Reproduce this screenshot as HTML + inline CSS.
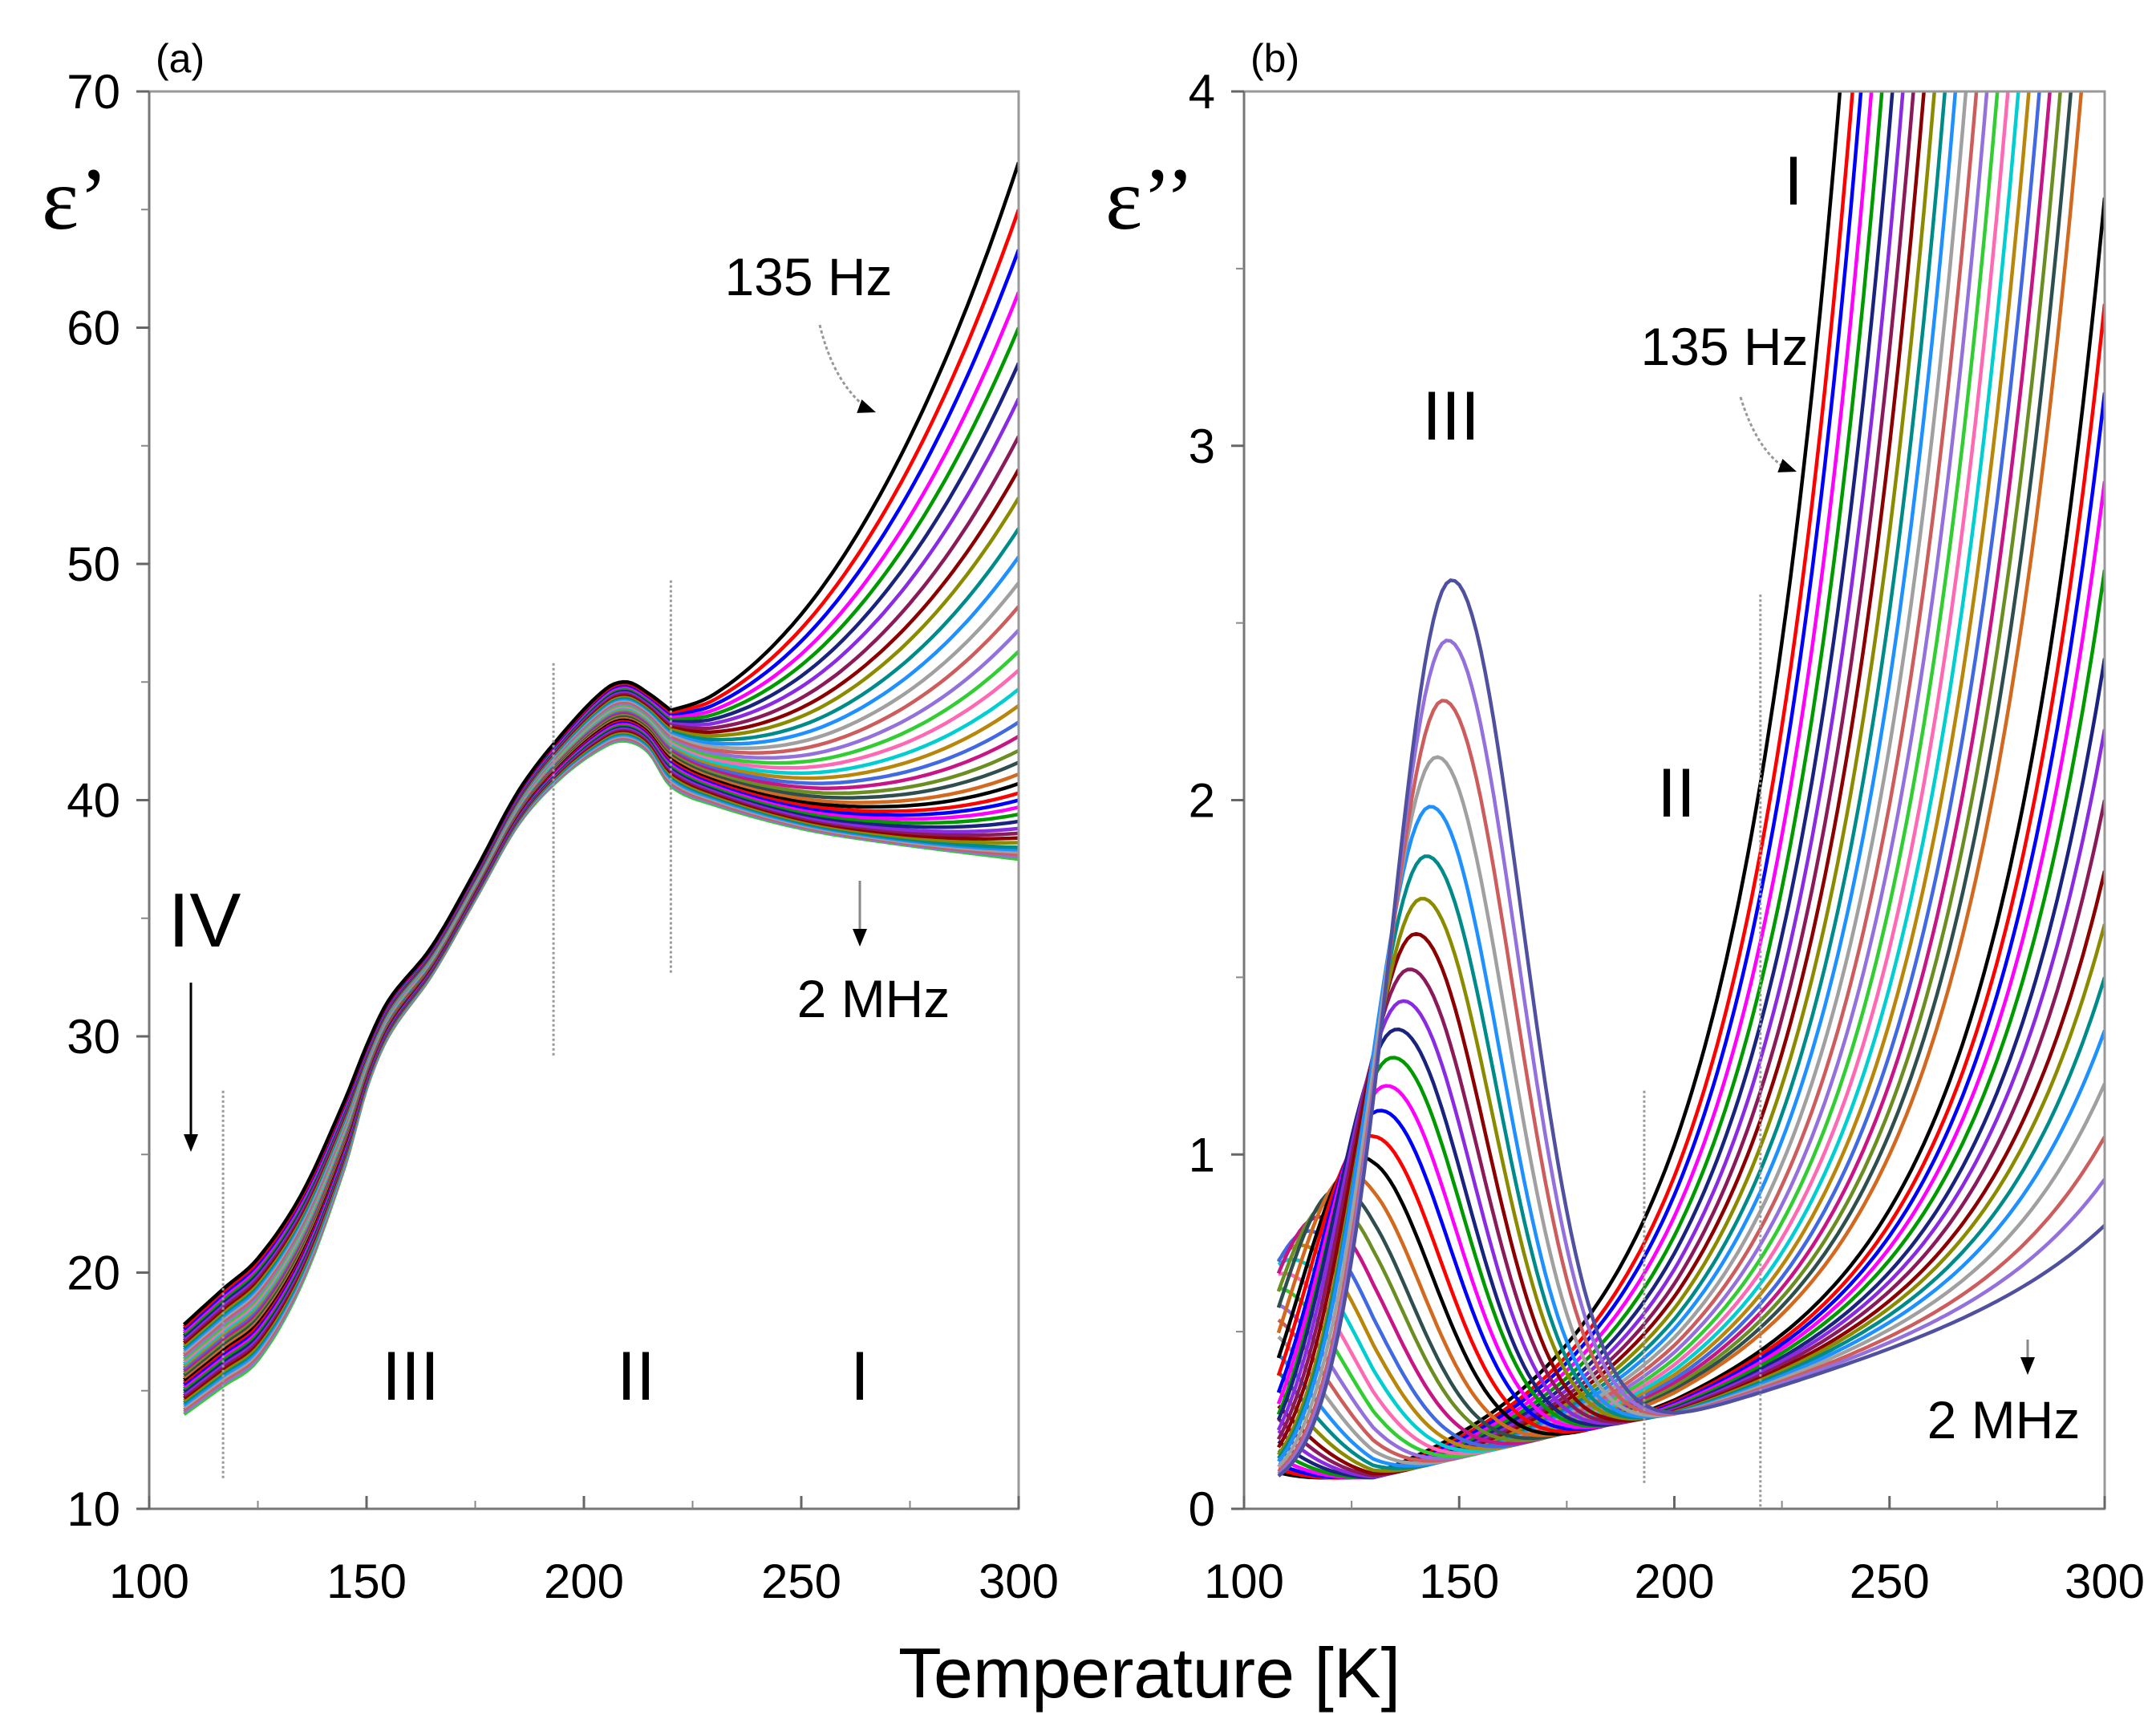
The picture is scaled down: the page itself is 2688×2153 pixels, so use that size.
<!DOCTYPE html>
<html><head><meta charset="utf-8"><style>
html,body{margin:0;padding:0;background:#fff;}
svg{display:block;font-family:"Liberation Sans",sans-serif;}
</style></head><body>
<svg id="chart" width="2688" height="2153" viewBox="0 0 2688 2153" xmlns="http://www.w3.org/2000/svg">
<defs>
<clipPath id="clipA"><rect x="186" y="114" width="1084" height="1767"/></clipPath>
<clipPath id="clipB"><rect x="1551" y="114" width="1073" height="1767"/></clipPath>
</defs>
<g id="panelA"></g>
<g id="panelB"></g>
<text x="1433" y="2116" font-size="88" text-anchor="middle">Temperature [K]</text>
</svg>
<script>
// ---------- Panel (a) data ----------
const tempsA = [108,117,125,135,145,150,155,165,175,185,195,205,210,215,220,230,250,270,300];
const lowCurveA = [14,15.2,16.3,19.5,24.5,27.8,30,32.6,35.8,39,41,42.3,42.5,42,40.6,39.8,38.8,38.2,37.5];
const spreadA = [3.8,4.1,4.3,3.8,2.8,1.8,1.5,1.2,1.2,1.4,1.8,2.4,2.5,2.5,3.2,2.6,1.8,1.2,0.5];
const endValuesA = [67,65,63.3,61.5,60,58.5,57,55.4,54,52.8,51.5,50.3,49.2,48.2,47.2,46.3,45.5,44.7,44,43.3,42.7,42.1,41.6,41.1,40.7,40.3,40,39.7,39.4,39.1,38.8,38.6,38.4,38.2,38,37.9,37.8,37.7,37.6,37.5];
const yTicksA = [10,20,30,40,50,60,70];
const xTicks = [100,150,200,250,300];

// ---------- Panel (b) data ----------
const peakHeightsB = [2.62,2.45,2.28,2.12,1.98,1.84,1.72,1.62,1.52,1.43,1.35,1.27,1.19,1.12,1.05,0.99,0.94,0.9,0.86,0.82,0.78,0.74,0.7,0.66,0.62,0.58,0.55,0.52,0.49,0.46,0.43,0.4,0.38,0.36,0.34,0.32,0.3,0.28,0.26,0.24];
const peakTempsB = [148,147,146,144.5,143,142,141,139.5,138,136.5,135,134,132.5,131,129,127,124.5,122,120,117.5,115,113,111,109,107,105,103,101,99,97,95,93,91,89,87,85,83,81,79,77];
const crossTempsB = [241,244,246,248.5,251,253.5,256,258.5,261,263.5,266,268.5,271,273.5,276,278.5,281,283.5,286,288.5,291,293.5,296,298.5];
const endValuesB = [3.1,2.8,2.55,2.3,2.05,1.8,1.6,1.4,1.2,1.05,0.9,0.75,0.6,0.45,0.33,0.2];
const yTicksB = [0,1,2,3,4];

const colors = ['#000000','#ff0000','#0000ff','#ff00ff','#009a00','#1a237e','#8a2be2','#8b1a5a','#8b0000','#8b8b00','#008b8b','#1e90ff','#a0a0a0','#cd5c5c','#9370db','#32cd32','#ff69b4','#00ced1','#b8860b','#4169e1','#c71585','#6b8e23','#2f4f4f','#d2691e'];
const NS='http://www.w3.org/2000/svg';
function mk(tag,attrs,parent){const e=document.createElementNS(NS,tag);for(const k in attrs)e.setAttribute(k,attrs[k]);parent.appendChild(e);return e;}
function interp(xs,ys,x){
  if(x<=xs[0])return ys[0];
  const n=xs.length;
  for(let i=1;i<n;i++){
    if(x<=xs[i]){
      const a=i-1,b=i;
      const t=(x-xs[a])/(xs[b]-xs[a]);
      const h=xs[b]-xs[a];
      const m0=a>0?(ys[b]-ys[a-1])/(xs[b]-xs[a-1]):(ys[b]-ys[a])/h;
      const m1=b<n-1?(ys[b+1]-ys[a])/(xs[b+1]-xs[a]):(ys[b]-ys[a])/h;
      const t2=t*t,t3=t2*t;
      return (2*t3-3*t2+1)*ys[a]+(t3-2*t2+t)*h*m0+(-2*t3+3*t2)*ys[b]+(t3-t2)*h*m1;
    }
  }
  return ys[n-1];
}

function axes(g,X,Y,x0,x1,y0,y1,yTicks,yMinor,xMinor,label,sym,symX){
  mk('rect',{x:x0,y:y1,width:x1-x0,height:y0-y1,fill:'none',stroke:'#999','stroke-width':3},g);
  mk('line',{x1:x0,y1:y1,x2:x0,y2:y0,stroke:'#777','stroke-width':3},g);
  mk('line',{x1:x0,y1:y0,x2:x1,y2:y0,stroke:'#777','stroke-width':3},g);
  yTicks.forEach(v=>{const y=Y(v);
    mk('line',{x1:x0-16,y1:y,x2:x0,y2:y,stroke:'#666','stroke-width':3},g);
    const t=mk('text',{x:x0-36,y:y+21,'font-size':60,'text-anchor':'end'},g);t.textContent=v;
    
    
  });
  yMinor.forEach(v=>{mk('line',{x1:x0-10,y1:Y(v),x2:x0,y2:Y(v),stroke:'#888','stroke-width':2},g);});
  xTicks.forEach(v=>{const x=X(v);
    mk('line',{x1:x,y1:y0,x2:x,y2:y0-16,stroke:'#666','stroke-width':3},g);
    const t=mk('text',{x:x,y:1992,'font-size':60,'text-anchor':'middle'},g);t.textContent=v;
    
    
  });
  xMinor.forEach(v=>{mk('line',{x1:X(v),y1:y0,x2:X(v),y2:y0-10,stroke:'#888','stroke-width':2},g);});
  const pl=mk('text',{x:x0+8,y:90,'font-size':50},g);pl.textContent=label;
  
  
  const s=mk('text',{x:symX,y:285,'font-size':110,'font-family':'"Liberation Serif",serif'},g);s.textContent=sym;
  
  
}
function txt(g,x,y,size,str,name){const t=mk('text',{x:x,y:y,'font-size':size,'text-anchor':'middle'},g);t.textContent=str;
  
  }
function vline(g,x,ya,yb){mk('line',{x1:x,y1:ya,x2:x,y2:yb,stroke:'#999','stroke-width':3,'stroke-dasharray':'3,3'},g);}
function arrowHead(g,x,y,ang){const a=ang*Math.PI/180,L=22,W=9;
  const p=[[x,y],[x-L*Math.cos(a)+W*Math.sin(a),y-L*Math.sin(a)-W*Math.cos(a)],[x-L*Math.cos(a)-W*Math.sin(a),y-L*Math.sin(a)+W*Math.cos(a)]];
  mk('polygon',{points:p.map(q=>q.join(',')).join(' '),fill:'#000'},g);}

// ---------- Panel (a) ----------
(function(){
  const g=document.getElementById('panelA');
  const x0=186,x1=1270,y0=1881,y1=114;
  const X=t=>x0+(t-100)/200*(x1-x0), Y=v=>y0-(v-10)/60*(y0-y1);
  const N=endValuesA.length;
  const cg=mk('g',{'clip-path':'url(#clipA)'},g);
  for(let i=N-1;i>=0;i--){
    const tau=70-58*i/(N-1);
    const ex=endValuesA[i]-37.5-0.5*(1-i/(N-1));
    let d='';
    for(let T=108;T<=300;T+=1){
      let h=0;if(T>220){h=(Math.exp((T-300)/tau)-Math.exp(-80/tau))/(1-Math.exp(-80/tau));}
      const v=interp(tempsA,lowCurveA,T)+interp(tempsA,spreadA,T)*(1-i/(N-1))+ex*h;
      d+=(T===108?'M':'L')+X(T).toFixed(1)+','+Y(v).toFixed(1);
    }
    const p=mk('path',{d:d,fill:'none',stroke:colors[i%colors.length],'stroke-width':4.5},cg);
    
    
  }
  axes(g,X,Y,x0,x1,y0,y1,yTicksA,[15,25,35,45,55,65],[125,175,225,275],'(a)','ε’',52);
  vline(g,X(117),Y(27.7),Y(11.3));vline(g,X(193),Y(45.8),Y(29.1));vline(g,X(220),Y(49.3),Y(32.6));
  txt(g,1008,368,66,'135 Hz','label-135hz');
  mk('path',{d:'M1022,405 Q1040,480 1085,512',fill:'none',stroke:'#999','stroke-width':3,'stroke-dasharray':'4,3'},g);
  arrowHead(g,1092,514,20);
  txt(g,1089,1268,66,'2 MHz','label-2mhz');
  mk('line',{x1:1072,y1:1098,x2:1072,y2:1165,stroke:'#888','stroke-width':3},g);arrowHead(g,1072,1180,90);
  txt(g,255,1180,96,'IV','region-iv-label');
  mk('line',{x1:238,y1:1225,x2:238,y2:1418,stroke:'#000','stroke-width':3},g);arrowHead(g,238,1436,90);
  txt(g,512,1745,86,'III','region-iii-label');txt(g,793,1745,86,'II','region-ii-label');txt(g,1072,1745,86,'I','region-i-label');
})();

// ---------- Panel (b) ----------
(function(){
  const g=document.getElementById('panelB');
  const x0=1551,x1=2624,y0=1881,y1=114;
  const X=t=>x0+(t-100)/200*(x1-x0), Y=v=>y0-v/4*(y0-y1);
  const N=peakHeightsB.length;
  const condC=[];crossTempsB.forEach(tc=>condC.push(4*Math.exp((300-tc)/25)));endValuesB.forEach(e=>condC.push(e));
  const base=T=>T<130?0.05:(T<200?0.05+0.2*(T-130)/70:0.25+0.0035*(T-200));
  const cg=mk('g',{'clip-path':'url(#clipB)'},g);
  for(let i=0;i<N;i++){
    const j=N-1-i;
    const P=peakTempsB[j];
    const H=peakHeightsB[j]-base(P);
    let d='';
    for(let T=108;T<=300;T+=1){
      const s=T<P?14:16.5;
      const v=H*Math.exp(-(T-P)*(T-P)/(2*s*s))+base(T)+condC[i]*Math.exp((T-300)/25);
      d+=(T===108?'M':'L')+X(T).toFixed(1)+','+Y(Math.min(v,4.3)).toFixed(1);
    }
    const p=mk('path',{d:d,fill:'none',stroke:i===N-1?'#5050a0':colors[i%colors.length],'stroke-width':4.5},cg);
    
    
  }
  axes(g,X,Y,x0,x1,y0,y1,yTicksB,[0.5,1.5,2.5,3.5],[125,175,225,275],'(b)','ε’’',1378);
  vline(g,X(193),Y(1.18),Y(0.07));vline(g,X(220),Y(2.58),Y(0));
  txt(g,1809,548,86,'III','region-iii-label-b');txt(g,2090,1018,86,'II','region-ii-label-b');txt(g,2236,255,86,'I','region-i-label-b');
  txt(g,2150,455,66,'135 Hz','label-135hz-b');
  mk('path',{d:'M2170,495 Q2190,560 2225,583',fill:'none',stroke:'#999','stroke-width':3,'stroke-dasharray':'4,3'},g);
  arrowHead(g,2240,588,20);
  txt(g,2498,1793,66,'2 MHz','label-2mhz-b');
  mk('line',{x1:2528,y1:1670,x2:2528,y2:1700,stroke:'#888','stroke-width':3},g);arrowHead(g,2528,1714,90);
})();
</script>
</body></html>
